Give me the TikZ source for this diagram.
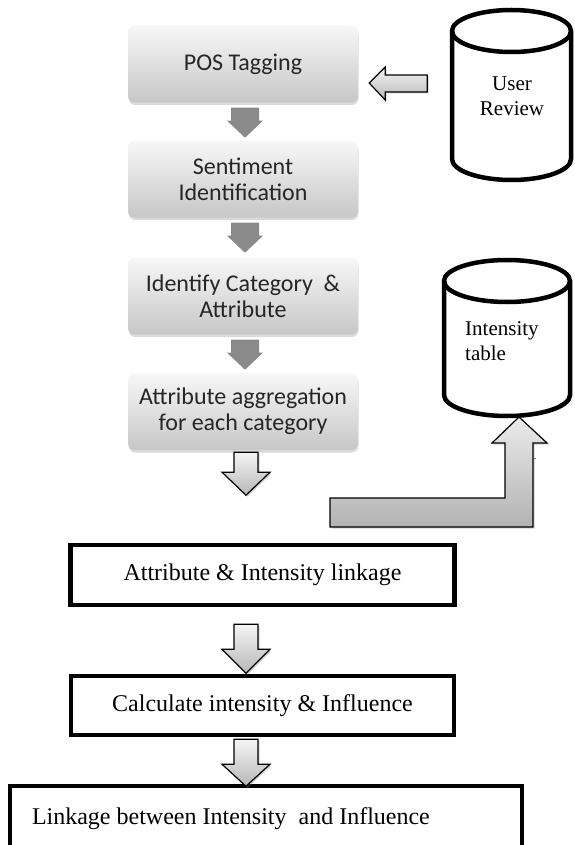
\documentclass[tikz,border=0pt]{standalone}
\usepackage{fontspec}
\setmainfont{Liberation Serif}
\newfontfamily\calibri{Carlito}
\usetikzlibrary{shadows}

\tikzset{
  graybox/.style={rounded corners=7pt, top color=black!3, bottom color=black!22,
    minimum width=230pt, minimum height=77pt, align=center, text=black!85,
    font=\calibri\fontsize{24}{26}\selectfont,
    drop shadow={shadow xshift=0.5pt, shadow yshift=-2.5pt, opacity=0.3}},
  linkbox/.style={draw, line width=4.5pt, fill=white, inner sep=0pt,
    font=\fontsize{24}{28}\selectfont},
  dbline/.style={line width=4.5pt},
  dbtext/.style={font=\fontsize{21}{25}\selectfont, inner sep=0pt},
  grayarrow/.style={fill=black!46},
  hollowarrow/.style={draw=black, line width=1.2pt, top color=black!4, bottom color=black!28,
    drop shadow={shadow xshift=1.5pt, shadow yshift=-1.5pt, opacity=0.35}},
}

\begin{document}
\begin{tikzpicture}[x=1pt,y=1pt]
  \useasboundingbox (0,0) rectangle (574,-845);

  % processing steps
  \node[graybox] (pos) at (243,-64) {POS Tagging};
  \node[graybox] (senti) at (243,-179) {Sentiment\\Identification};
  \node[graybox] (ident) at (243,-296) {Identify Category\ \ \&\\Attribute};
  \node[graybox] (aggr) at (243,-411.5) {Attribute aggregation\\for each category};

  \foreach \a in {pos, senti, ident}
    \path[grayarrow] ([xshift=2pt,yshift=-5pt]\a.south) ++(-14,0) -- ++(28,0) -- ++(0,-13)
      -- ++(4,0) -- ++(-18,-17) -- ++(-18,17) -- ++(4,0) -- cycle;

  % user review
  \draw[dbline, fill=white] (452,-31) -- (452,-159) arc[start angle=180, end angle=360, x radius=59.5, y radius=21]
    -- (571,-31) arc[start angle=0, end angle=180, x radius=59.5, y radius=21] -- cycle;
  \draw[dbline] (452,-31) arc[start angle=180, end angle=360, x radius=59.5, y radius=21];
  \node[dbtext, align=center] (review) at (512,-96) {User\\Review};

  \path[hollowarrow] ([xshift=11pt,yshift=-19pt]pos.east) -- ++(16,16) -- ++(0,-8) -- ++(42,0)
    -- ++(0,-17) -- ++(-42,0) -- ++(0,-8) -- cycle;

  % intensity table
  \draw[dbline, fill=white] (444,-281) -- (444,-395) arc[start angle=180, end angle=360, x radius=63, y radius=21]
    -- (570,-281) arc[start angle=0, end angle=180, x radius=63, y radius=21] -- cycle;
  \draw[dbline] (444,-281) arc[start angle=180, end angle=360, x radius=63, y radius=21];
  \node[dbtext, align=left, anchor=west] (itable) at (465,-341) {Intensity\\table};
  \coordinate (tablebase) at (519,-417);
  \node[inner sep=0pt, font=\fontsize{10}{10}\selectfont] (dot) at (535,-459) {.};

  \path[hollowarrow, top color=black!8, bottom color=black!30] (tablebase) -- ++(28,-26) -- ++(-14,0)
    -- ++(0,-84) -- ++(-203,0) -- ++(0,29) -- ++(175,0) -- ++(0,55) -- ++(-13,0) -- cycle;

  % linkage steps
  \node[linkbox, minimum width=384pt, minimum height=60pt] (link) at (262.5,-575) {Attribute \& Intensity linkage};
  \node[linkbox, minimum width=383pt, minimum height=59pt] (calc) at (262.5,-705.5) {Calculate intensity \& Influence};
  \node[linkbox, minimum height=66pt, inner xsep=22pt] (final) at (266,-819)
    {\makebox[468pt][l]{Linkage between Intensity\ \ and Influence}};

  \path[hollowarrow] ([xshift=3pt,yshift=-2pt]aggr.south) ++(-12,0) -- ++(24,0) -- ++(0,-20)
    -- ++(12,0) -- ++(-24,-23) -- ++(-24,23) -- ++(12,0) -- cycle;
  \path[hollowarrow] ([xshift=-16.5pt,yshift=-17pt]link.south) ++(-12,0) -- ++(24,0) -- ++(0,-25)
    -- ++(12,0) -- ++(-24,-24) -- ++(-24,24) -- ++(12,0) -- cycle;
  \path[hollowarrow] ([xshift=-16.5pt,yshift=-2pt]calc.south) ++(-12,0) -- ++(24,0) -- ++(0,-25)
    -- ++(12,0) -- ++(-24,-22) -- ++(-24,22) -- ++(12,0) -- cycle;
\end{tikzpicture}
\end{document}
